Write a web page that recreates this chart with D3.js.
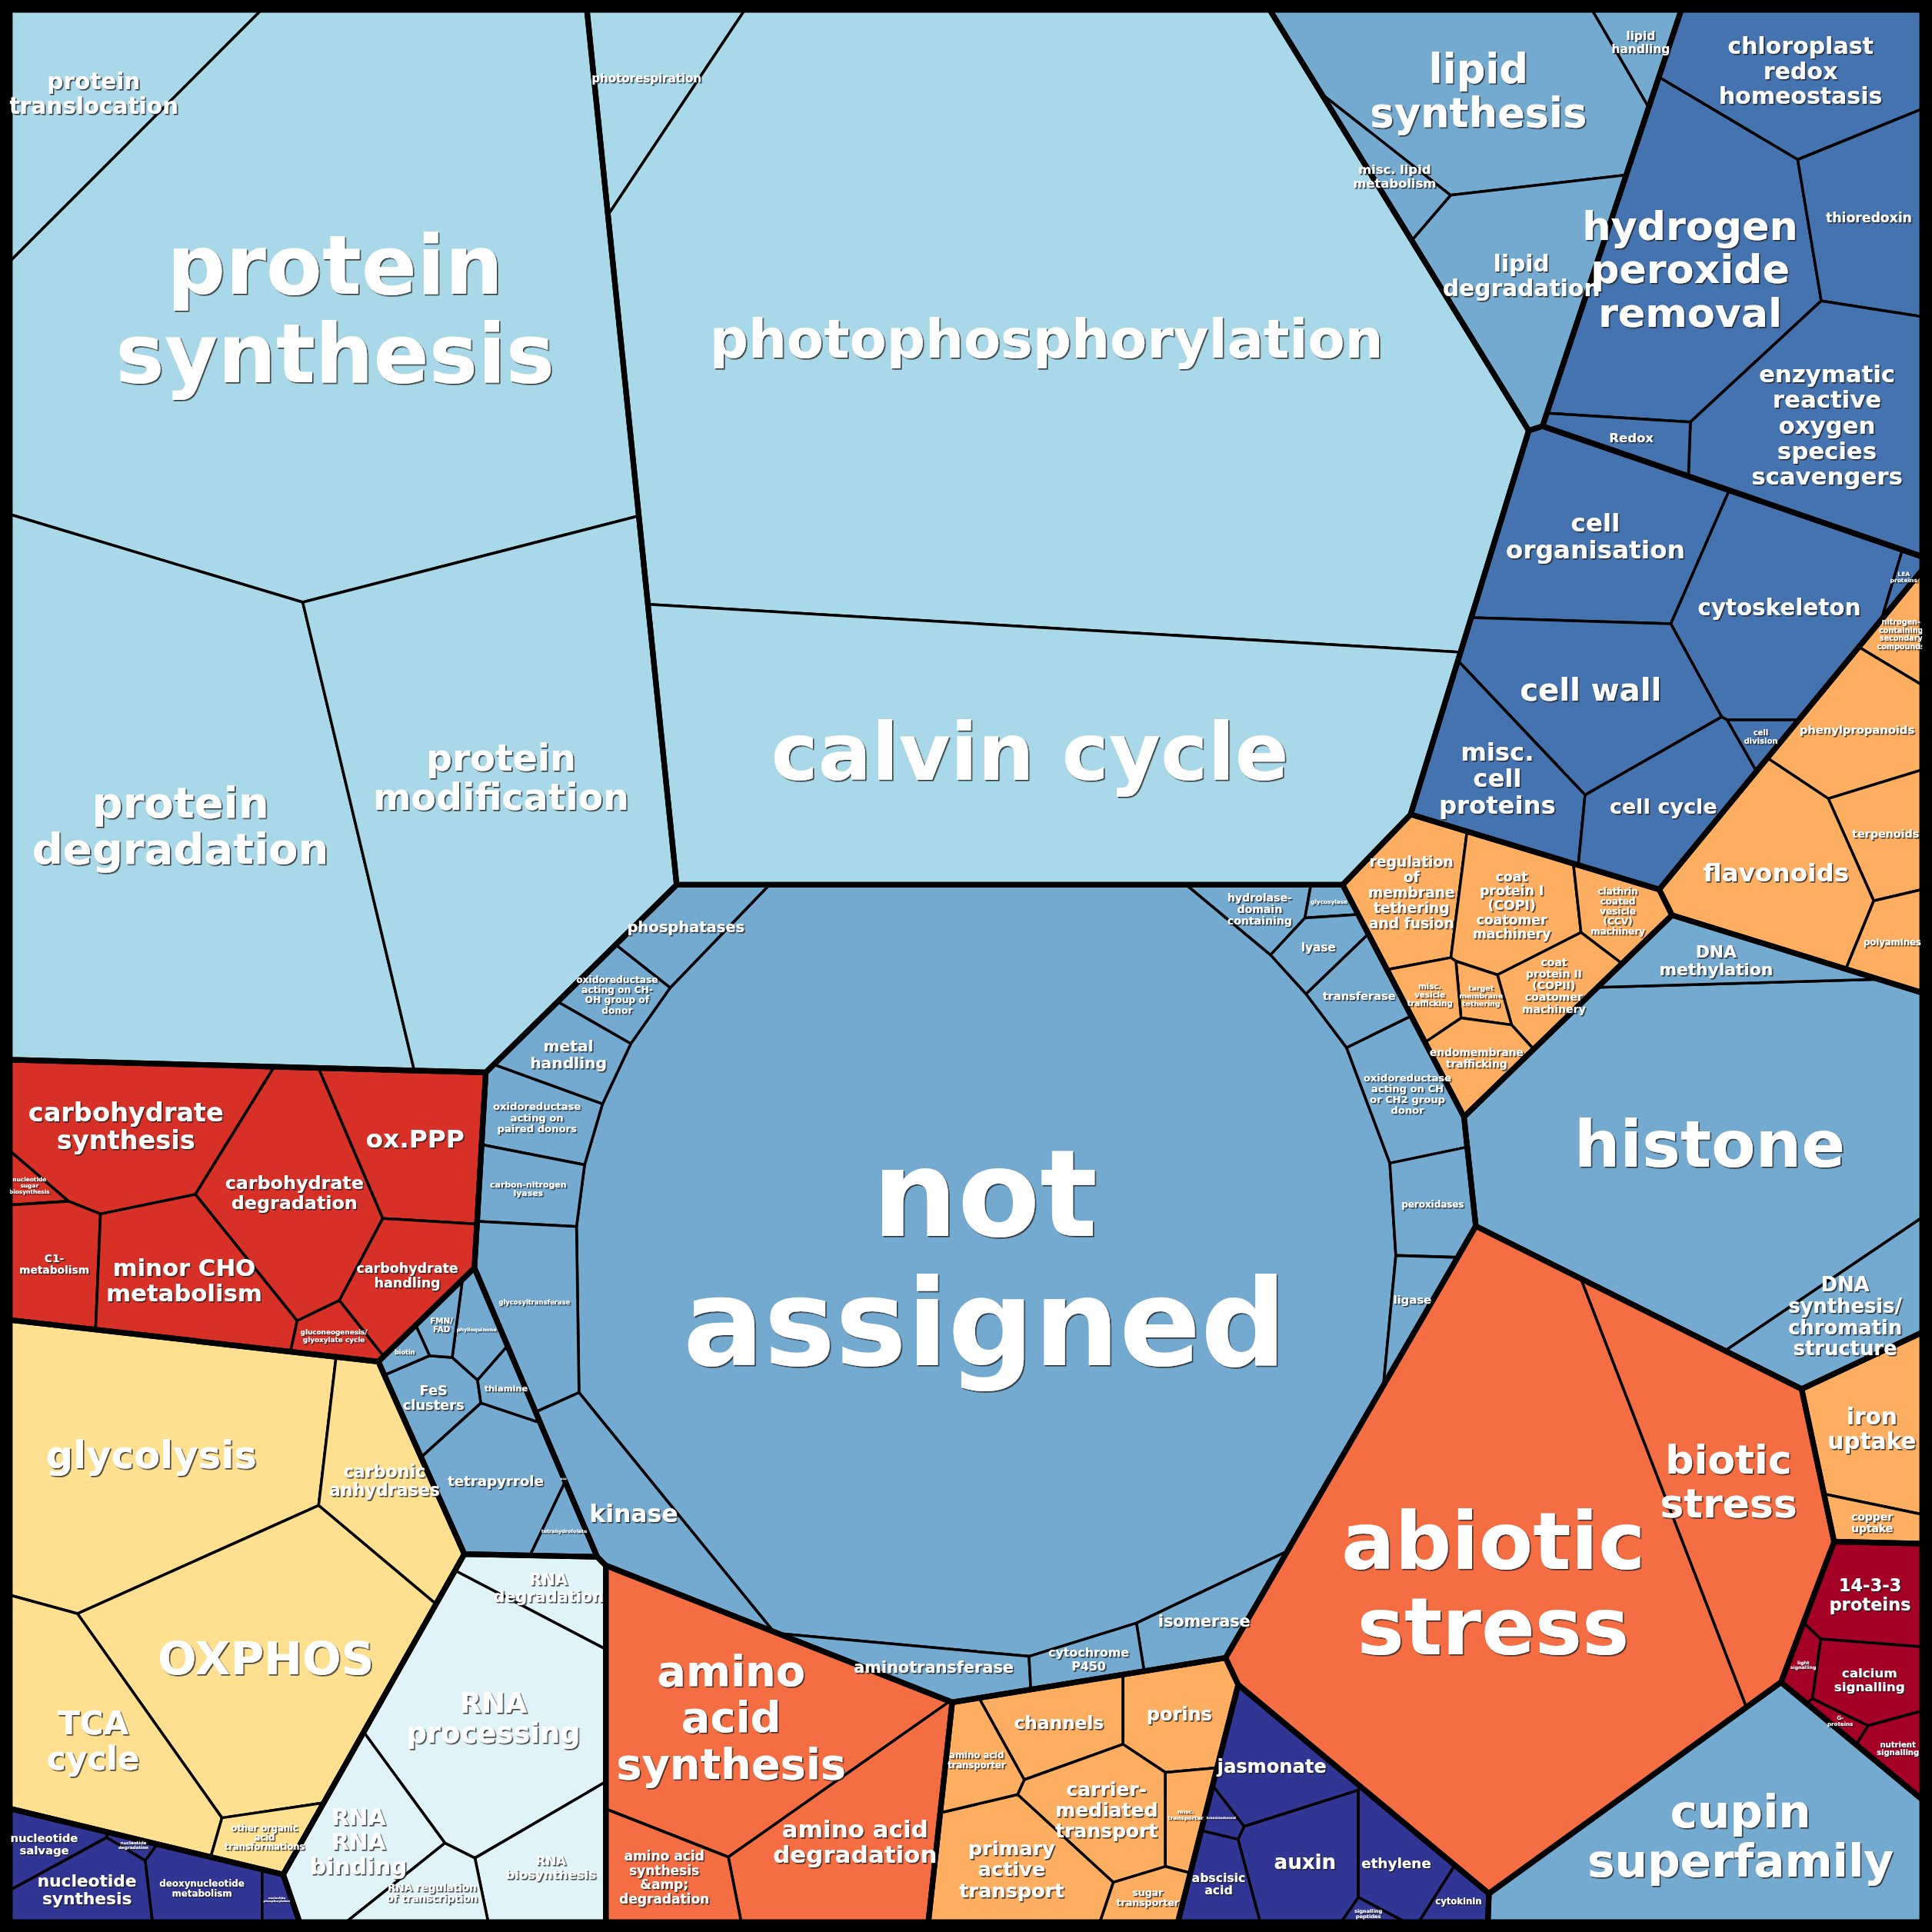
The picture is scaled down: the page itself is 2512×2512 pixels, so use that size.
<!DOCTYPE html>
<html><head><meta charset="utf-8">
<script src="https://cdn.jsdelivr.net/npm/d3@7"></script>
<style>body{margin:0;background:#fff}</style>
</head><body>
<svg id="chart"></svg>
<script>
// top level groups (site position, estimated share of area)
const groupNames = ["Protein","Photosynthesis","Lipid","Redox","Cell","Secondary","Vesicle","Chromatin","Nutrient","Stress",
  "Signalling","Cupin","Hormones","Transport","AminoAcid","RNA","Nucleotide","Energy","Carbohydrate","Coenzyme","NotAssigned"];
const groupColors = ["#a9d8e8","#a9d8e8","#74aad0","#4473b0","#4473b0","#fdae61","#fdae61","#74aad0","#fdae61","#f46d43",
  "#a50026","#74aad0","#313695","#fdae61","#f46d43","#e0f3f8","#313695","#fee090","#d73027","#74aad0","#74aad0"];
const groupX = [215,800,1190,1430,1320,1490,1240,1400,1522,1240,1518,1410,1055,870,640,395,110,165,200,400,800];
const groupY = [420,360,120,200,520,660,785,950,1210,1270,1375,1505,1492,1445,1420,1420,1518,1290,980,1185,1015];
const groupArea = [400,430,55,95,85,36,32,95,12,150,15,40,25,40,60,55,13,120,78,20,400];

// sub categories: [group, label (| = line break), x, y, value]
const cells = [
  [0,"protein|synthesis",240,300,190],[0,"protein|translocation",40,100,20],[0,"protein|degradation",120,700,110],[0,"protein|modification",330,650,90],
  [1,"photorespiration",460,60,10],[1,"photophosphorylation",820,300,300],[1,"calvin cycle",800,640,120],
  [2,"lipid|synthesis",1205,80,28],[2,"lipid|degradation",1220,210,16],[2,"lipid|handling",1305,22,2],[2,"misc. lipid|metabolism",1150,150,2],
  [3,"chloroplast|redox|homeostasis",1465,60,18],[3,"hydrogen|peroxide|removal",1370,220,35],[3,"thioredoxin",1520,195,12],
  [3,"enzymatic|reactive|oxygen|species|scavengers",1495,355,25],[3,"Redox",1362,350,3],
  [4,"cell|organisation",1270,400,20],[4,"cytoskeleton",1430,470,20],[4,"cell wall",1265,560,30],[4,"misc.|cell|proteins",1170,650,6],
  [4,"cell cycle",1325,665,8],[4,"cell|division",1430,605,1.5],[4,"LEA|proteins",1530,500,1.5],
  [5,"nitrogen-|containing|secondary|compounds",1545,545,1.5],[5,"phenylpropanoids",1500,620,8],[5,"terpenoids",1520,685,7],[5,"flavonoids",1430,725,14],[5,"polyamines",1540,770,2.5],
  [6,"regulation|of|membrane|tethering|and fusion",1167,730,8],[6,"coat|protein I|(COPI)|coatomer|machinery",1245,740,9],[6,"clathrin|coated|vesicle|(CCV)|machinery",1335,730,4],
  [6,"coat|protein II|(COPII)|coatomer|machinery",1278,805,5],[6,"target|membrane|tethering",1218,822,3],[6,"endomembrane|trafficking",1212,865,4],[6,"misc.|vesicle|trafficking",1185,825,2],
  [7,"histone",1390,945,65],[7,"DNA|methylation",1385,772,5],[7,"DNA|synthesis/|chromatin|structure",1505,1115,8],
  [8,"iron|uptake",1525,1200,9],[8,"copper|uptake",1510,1272,2],
  [9,"abiotic|stress",1210,1310,110],[9,"biotic|stress",1430,1225,28],
  [10,"14-3-3|proteins",1525,1320,5],[10,"calcium|signalling",1520,1385,6],[10,"nutrient|signalling",1535,1440,3],[10,"light|signalling",1470,1378,1],[10,"G-|proteins",1503,1420,1],
  [11,"cupin|superfamily",1420,1505,40],
  [12,"jasmonate",1020,1452,6],[12,"auxin",1040,1515,8],[12,"ethylene",1115,1515,4],[12,"abscisic|acid",965,1535,4],[12,"brassinosteroid",977,1485,2],
  [12,"signalling|peptides",1095,1553,1.5],[12,"cytokinin",1175,1553,1],
  [13,"channels",860,1362,7],[13,"porins",940,1362,4],[13,"carrier-|mediated|transport",888,1440,7],[13,"misc.|transporter",947,1440,4],
  [13,"primary|active|transport",822,1512,10],[13,"amino acid|transporter",795,1398,3],[13,"sugar|transporter",920,1545,1],
  [14,"amino|acid|synthesis",610,1372,35],[14,"amino acid|degradation",700,1500,18],[14,"amino acid|synthesis|&amp;amp;|degradation",548,1530,7],
  [15,"RNA|degradation",465,1285,5],[15,"RNA|processing",405,1400,28],[15,"RNA|RNA|binding",282,1490,10],[15,"RNA|biosynthesis",475,1520,8],[15,"RNA regulation|of transcription",330,1550,4],
  [16,"nucleotide|salvage",35,1490,4],[16,"nucleotide|degradation",95,1495,2],[16,"nucleotide|synthesis",65,1545,3],[16,"deoxynucleotide|metabolism",150,1535,5],[16,"nucleotide|phosphorylation",214,1535,1],
  [17,"glycolysis",125,1195,45],[17,"carbonic|anhydrases",295,1215,12],[17,"OXPHOS",190,1340,40],[17,"TCA|cycle",60,1432,20],[17,"other organic|acid|transformations",210,1475,3],
  [18,"carbohydrate|synthesis",97,897,15],[18,"carbohydrate|degradation",228,978,18],[18,"ox.PPP",352,925,12],[18,"nucleotide|sugar|biosynthesis",30,975,5],
  [18,"C1-|metabolism",35,1053,5],[18,"minor CHO|metabolism",130,1057,14],[18,"carbohydrate|handling",345,1040,7],[18,"gluconeogenesis/|glyoxylate cycle",282,1090,2],
  [19,"tetrapyrrole",405,1205,12],[19,"FeS|clusters",348,1142,5],[19,"phylloquinone",390,1095,3],[19,"FMN/|FAD",352,1090,1.5],[19,"thiamine",430,1130,2],
  [19,"tetrahydrofolate",485,1243,2],[19,"biotin",330,1100,1],[19,"NAD",455,1190,1],
  [20,"not|assigned",800,1015,330],[20,"phosphatases",509,735,1.2],[20,"oxidoreductase|acting on CH-|OH group of|donor",471,783,1.5],[20,"metal|handling",436,844,1.5],
  [20,"oxidoreductase|acting on|paired donors",415,902,1.5],[20,"carbon-nitrogen|lyases",403,963,1.5],[20,"glycosyltransferase",400,1021,1.2],
  [20,"hydrolase-|domain|containing",1058,705,1.2],[20,"glycosylase",1097,712,0.8],[20,"oxidoreductase|acting on CH|or CH2 group|donor",1176,874,1.8],
  [20,"peroxidases",1200,989,1],[20,"transferase",1125,770,0.8],[20,"lyase",1099,743,0.6],[20,"ligase",1198,1053,0.6],[20,"isomerase",950,1330,0.6],
  [20,"aminotransferase",770,1345,0.6],[20,"cytochrome|P450",900,1338,0.8],[20,"kinase",505,1255,0.6]
];

const S = 1568, B = 8;
const svg = d3.select("#chart").attr("width", 2512).attr("height", 2512).attr("viewBox", `0 0 ${S} ${S}`);
svg.append("defs").append("filter").attr("id", "shadow").attr("x", "-20%").attr("y", "-20%").attr("width", "140%").attr("height", "140%")
  .append("feDropShadow").attr("dx", 1).attr("dy", 1).attr("stdDeviation", 0.4).attr("flood-color", "#222").attr("flood-opacity", 0.85);

function clip(poly, a, b, c) { // keep a*x + b*y <= c
  const out = [];
  for (let i = 0; i < poly.length; i++) {
    const p = poly[i], q = poly[(i + 1) % poly.length];
    const fp = a * p[0] + b * p[1] - c, fq = a * q[0] + b * q[1] - c;
    if (fp <= 0) out.push(p);
    if ((fp < 0 && fq > 0) || (fp > 0 && fq < 0)) {
      const t = fp / (fp - fq);
      out.push([p[0] + t * (q[0] - p[0]), p[1] + t * (q[1] - p[1])]);
    }
  }
  return out;
}

function powerCells(bound, sites, w) {
  return sites.map((pi, i) => {
    let poly = bound.slice();
    sites.forEach((pj, j) => {
      if (i === j || poly.length < 3) return;
      poly = clip(poly, 2 * (pj[0] - pi[0]), 2 * (pj[1] - pi[1]),
        pj[0] * pj[0] + pj[1] * pj[1] - pi[0] * pi[0] - pi[1] * pi[1] - w[j] + w[i]);
    });
    return poly;
  });
}

function layout(bound, sites, values) {
  const total = Math.abs(d3.polygonArea(bound)), sum = d3.sum(values);
  const target = values.map(v => v / sum * total);
  const d2 = (i, j) => (sites[i][0] - sites[j][0]) ** 2 + (sites[i][1] - sites[j][1]) ** 2;
  let w = target.map(t => t / Math.PI);
  // keep every site inside its own cell: w_i - w_j < d_ij^2
  const constrain = () => {
    for (let pass = 0; pass < 4; pass++)
      for (let i = 0; i < w.length; i++)
        for (let j = 0; j < w.length; j++)
          if (i !== j && w[i] - w[j] > 0.96 * d2(i, j)) w[i] = w[j] + 0.96 * d2(i, j);
  };
  constrain();
  for (let it = 0; it < 300; it++) {
    const polys = powerCells(bound, sites, w);
    const areas = polys.map(p => p.length > 2 ? Math.abs(d3.polygonArea(p)) : 0);
    w = w.map((wi, i) => {
      const ratio = Math.max(0.5, Math.min(2, target[i] / Math.max(areas[i], total * 1e-5)));
      return Math.max(wi * ratio, 0.25);
    });
    constrain();
  }
  return powerCells(bound, sites, w);
}

const frame = [[B, B], [S - B, B], [S - B, S - B], [B, S - B]];
const groupPolys = layout(frame, groupX.map((x, i) => [x, groupY[i]]), groupArea);

const line = d3.line();
const childLayer = svg.append("g"), groupLayer = svg.append("g"), labelLayer = svg.append("g").attr("filter", "url(#shadow)");
const LH = 1.08; // line height in em

groupPolys.forEach((gp, g) => {
  if (gp.length < 3) return;
  const rows = cells.filter(c => c[0] === g);
  const polys = rows.length > 1 ? layout(gp, rows.map(r => [r[2], r[3]]), rows.map(r => r[4])) : [gp];
  rows.forEach((r, k) => {
    const p = polys[k];
    if (!p || p.length < 3) return;
    childLayer.append("path").attr("d", line(p) + "Z")
      .attr("fill", groupColors[g]).attr("stroke", "#000").attr("stroke-width", 2.2).attr("stroke-linejoin", "round");
    const lines = r[1].replace("&amp;amp;", "&amp;").split("|");
    const xs = p.map(d => d[0]), ys = p.map(d => d[1]);
    const bw = d3.max(xs) - d3.min(xs), bh = d3.max(ys) - d3.min(ys);
    const area = Math.abs(d3.polygonArea(p));
    const maxLen = d3.max(lines, l => l.length);
    let fs = Math.min(Math.sqrt(area) * 0.18, bw * 0.75 / (maxLen * 0.64), bh * 0.5 / (lines.length * LH));
    fs = Math.max(fs, 2);
    const [cx, cy] = d3.polygonCentroid(p);
    const t0 = cy - (lines.length - 1) * fs * LH / 2;
    const t = labelLayer.append("text").attr("text-anchor", "middle")
      .attr("font-family", "DejaVu Sans").attr("font-weight", "bold").attr("font-size", fs.toFixed(2)).attr("fill", "#fff");
    lines.forEach((l, li) => t.append("tspan").attr("x", cx).attr("y", t0 + li * fs * LH + fs * 0.35).text(l));
  });
  groupLayer.append("path").attr("d", line(gp) + "Z").attr("fill", "none")
    .attr("stroke", "#000").attr("stroke-width", 4.5).attr("stroke-linejoin", "round");
});

svg.append("rect").attr("x", B / 2).attr("y", B / 2).attr("width", S - B).attr("height", S - B)
  .attr("fill", "none").attr("stroke", "#000").attr("stroke-width", B);
</script>
</body></html>
